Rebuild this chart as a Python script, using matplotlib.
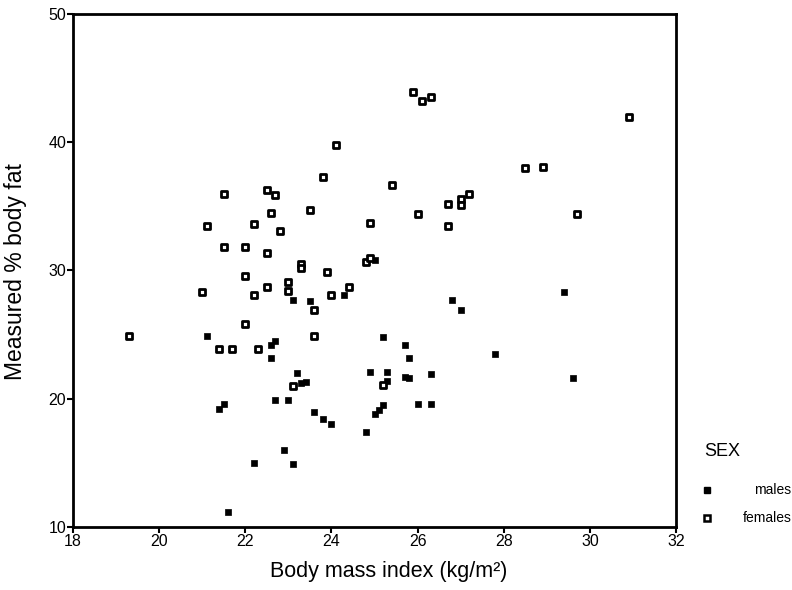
import numpy as np
import matplotlib.pyplot as plt
from matplotlib.lines import Line2D

plt.rcParams['font.family'] = ['Liberation Sans', 'DejaVu Sans']

# body mass index (kg/m2) and measured % body fat
male_bmi = [21.1, 21.4, 21.5, 21.6, 22.2, 22.6, 22.7, 22.6, 22.7, 22.9,
            23.0, 23.1, 23.1, 23.2, 23.3, 23.4, 23.5, 23.6, 23.8, 24.0,
            24.3, 24.8, 24.9, 25.0, 25.1, 25.2, 25.0, 25.2, 25.3, 25.3,
            25.7, 25.8, 25.7, 25.8, 26.0, 26.3, 26.3, 26.8, 27.0, 27.8,
            29.4, 29.6]
male_fat = [24.9, 19.2, 19.6, 11.2, 15.0, 24.2, 24.5, 23.2, 19.9, 16.0,
            19.9, 14.9, 27.7, 22.0, 21.2, 21.3, 27.6, 19.0, 18.4, 18.0,
            28.1, 17.4, 22.1, 18.8, 19.1, 19.5, 30.8, 24.8, 22.1, 21.4,
            21.7, 21.6, 24.2, 23.2, 19.6, 19.6, 21.9, 27.7, 26.9, 23.5,
            28.3, 21.6]

female_bmi = [19.3, 21.0, 21.1, 21.4, 21.7, 21.5, 21.5, 22.0, 22.0, 22.0,
              22.2, 22.2, 22.3, 22.5, 22.5, 22.5, 22.7, 22.6, 22.8, 23.0,
              23.0, 23.1, 23.3, 23.3, 23.5, 23.6, 23.6, 23.8, 23.9, 24.0,
              24.1, 24.4, 24.8, 24.9, 24.9, 25.2, 25.4, 25.9, 26.1, 26.3,
              26.0, 26.7, 26.7, 27.0, 27.0, 27.2, 28.5, 28.9, 29.7, 30.9]
female_fat = [24.9, 28.3, 33.5, 23.9, 23.9, 36.0, 31.8, 31.8, 25.8, 29.6,
              28.1, 33.6, 23.9, 31.4, 28.7, 36.3, 35.9, 34.5, 33.1, 29.1,
              28.4, 21.0, 30.5, 30.2, 34.7, 26.9, 24.9, 37.3, 29.9, 28.1,
              39.8, 28.7, 30.7, 31.0, 33.7, 21.1, 36.7, 43.9, 43.2, 43.5,
              34.4, 35.2, 33.5, 35.6, 35.1, 36.0, 38.0, 38.1, 34.4, 42.0]

x_ticks = [18, 20, 22, 24, 26, 28, 30, 32]
y_ticks = [10, 20, 30, 40, 50]
sex_labels = ['males', 'females']

fig = plt.figure(figsize=(7.92, 5.90), dpi=100)
ax = fig.add_axes([0.0922, 0.1068, 0.7614, 0.8695])

ax.scatter(male_bmi, male_fat, marker='s', s=14, color='black',
           linewidths=0.5, zorder=3)
ax.scatter(female_bmi, female_fat, marker='s', s=22, facecolor='white',
           edgecolor='black', linewidths=2.0, zorder=3)

ax.set_xlim(18, 32)
ax.set_ylim(10, 50)
ax.set_xticks(x_ticks)
ax.set_yticks(y_ticks)
ax.tick_params(direction='out', length=4, width=1.5, labelsize=11.5, pad=1)
for sp in ax.spines.values():
    sp.set_linewidth(2)

ax.set_xlabel('Body mass index (kg/m²)', fontsize=15.5)
ax.set_ylabel('Measured % body fat', fontsize=16.5)
# label anchors: top edge of x label, right edge of the rotated y label
ax.xaxis.set_label_coords(0.523, -0.066)
ax.yaxis.set_label_coords(-0.076, 0.497)

# legend drawn by hand to the right of the plot
fig.text(0.912, 0.234, 'SEX', fontsize=13, ha='center', va='center')
legend_y = [0.170, 0.122]
legend_markers = [dict(marker='s', color='black', markersize=4),
                  dict(marker='s', markerfacecolor='white',
                       markeredgecolor='black', markeredgewidth=1.8,
                       markersize=5)]
for lab, yy, mk in zip(sex_labels, legend_y, legend_markers):
    fig.add_artist(Line2D([0.893], [yy], linestyle='none',
                          transform=fig.transFigure, **mk))
    fig.text(0.999, yy, lab, fontsize=10, ha='right', va='center')

fig.savefig('out.png', dpi=100)
